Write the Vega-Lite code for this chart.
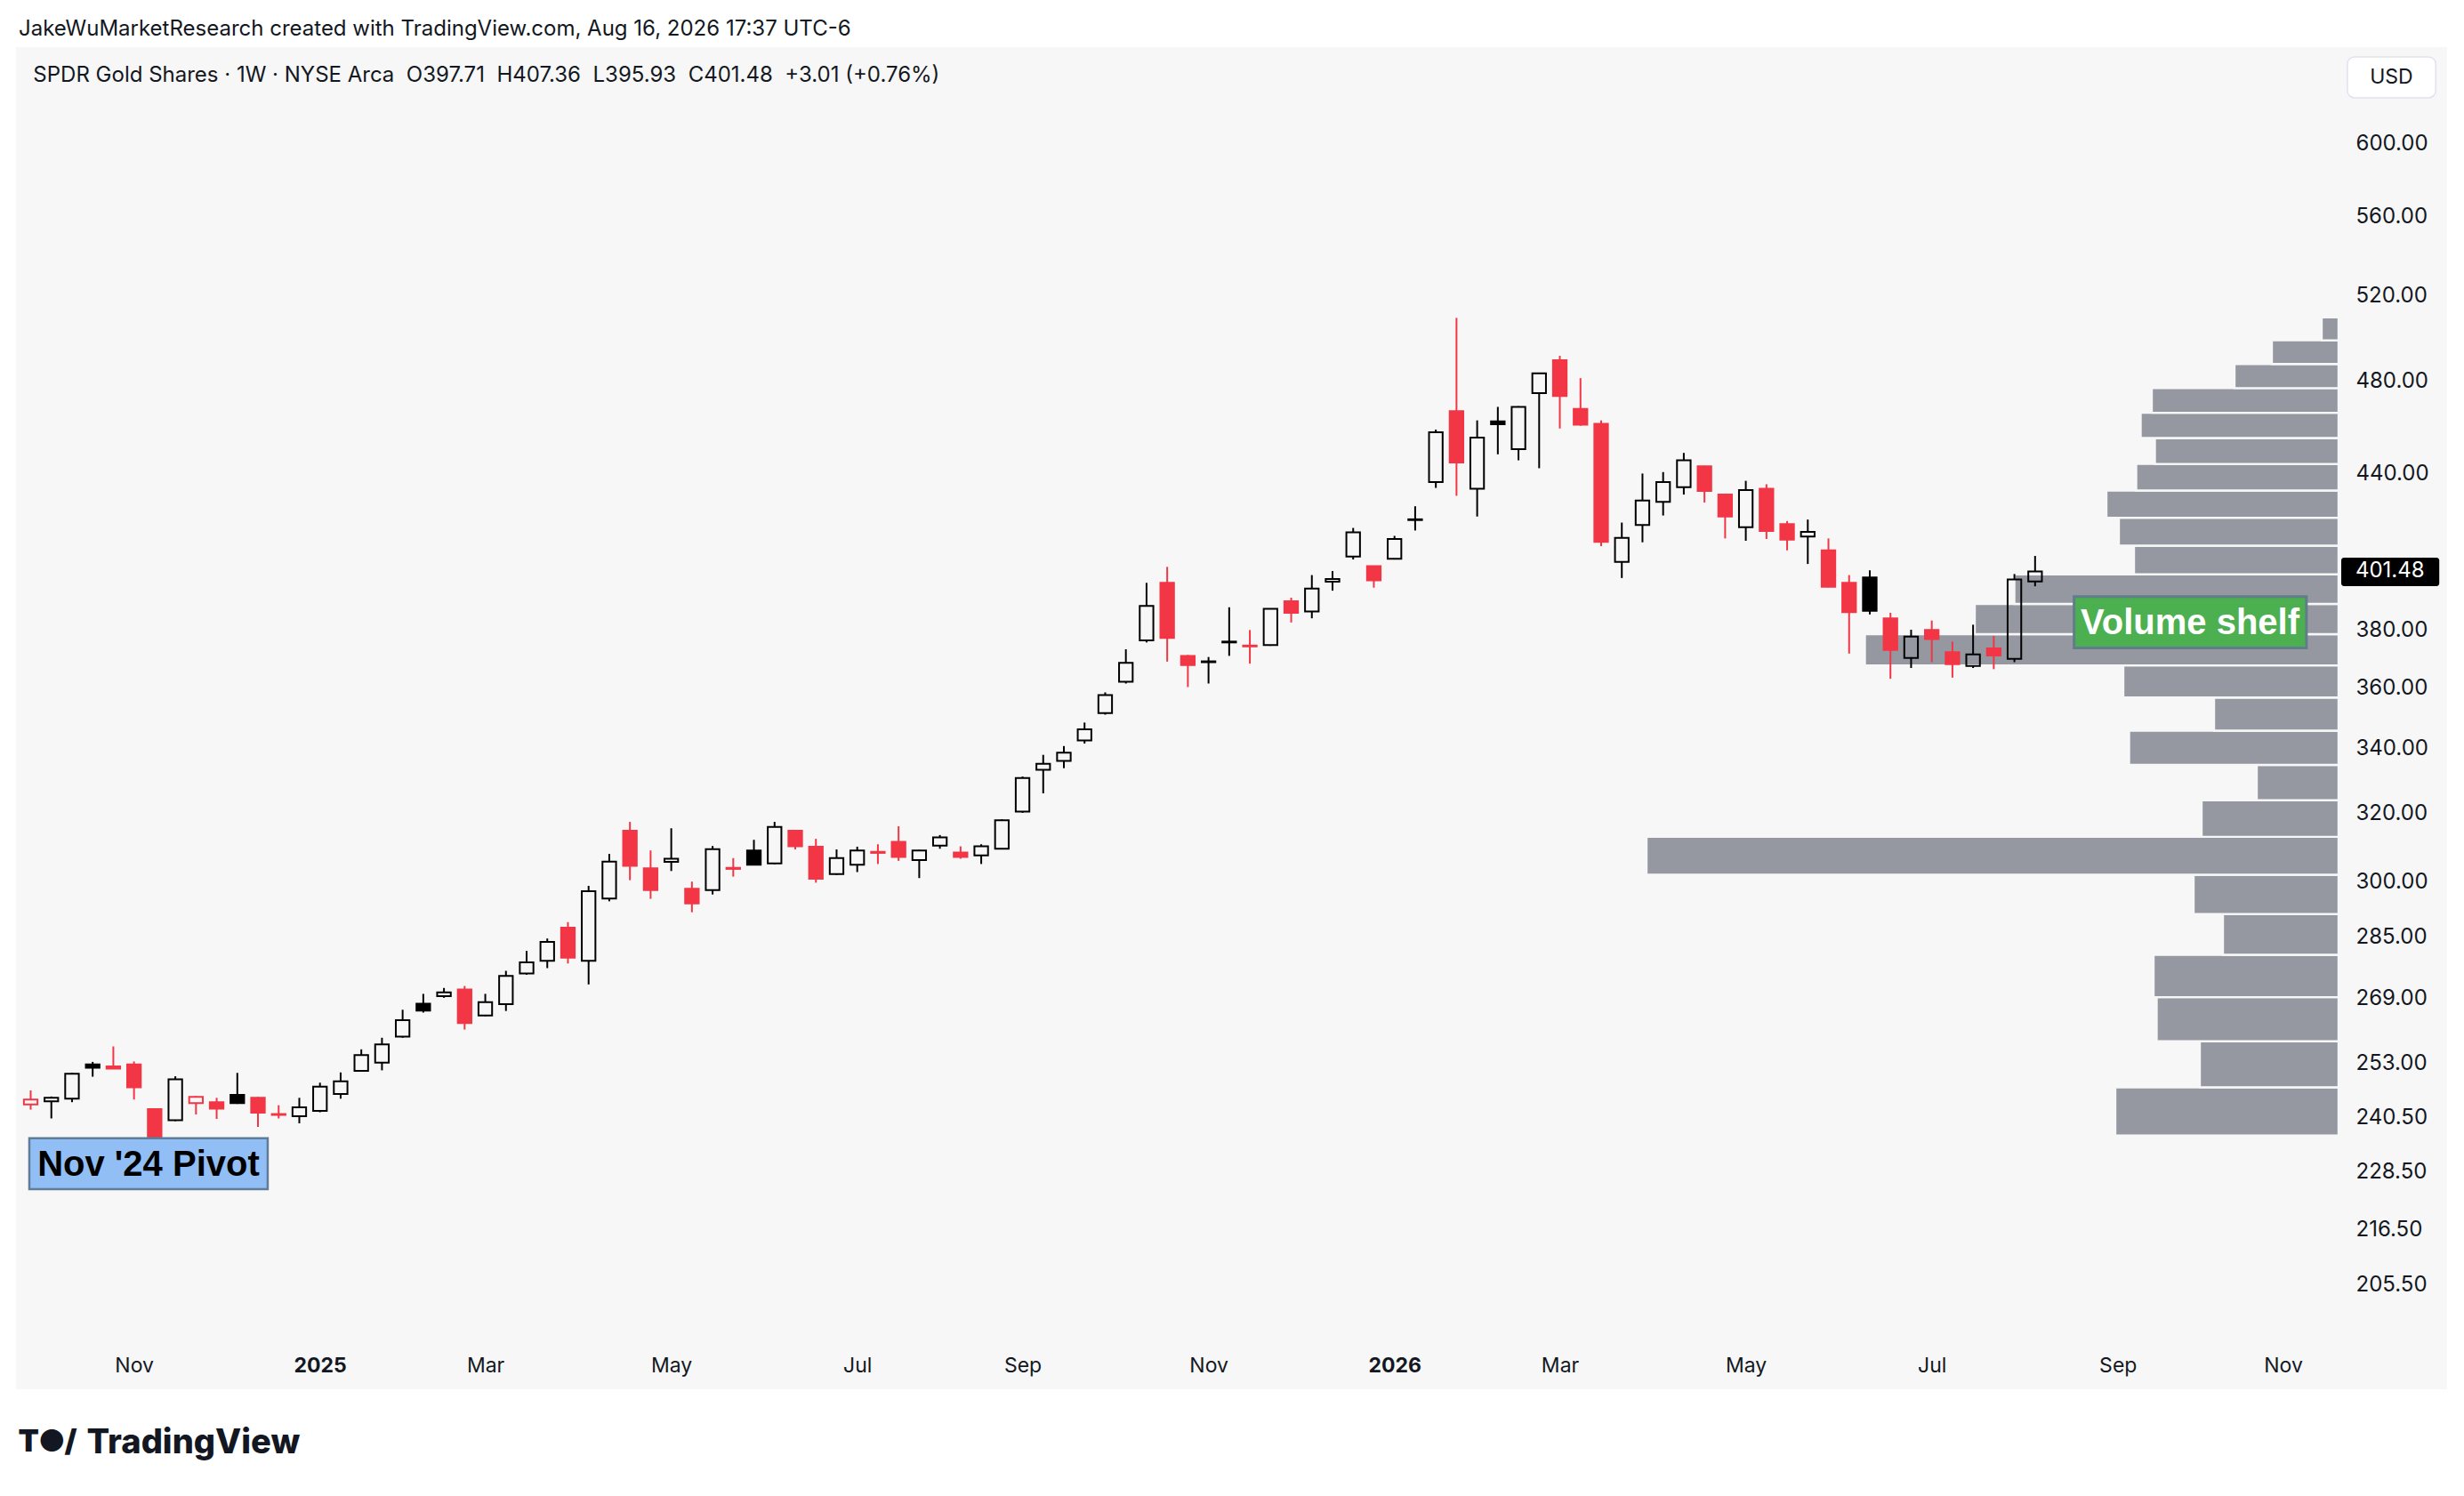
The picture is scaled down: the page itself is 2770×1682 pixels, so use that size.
{
  "$schema": "https://vega.github.io/schema/vega-lite/v6.json",
  "width": 2733,
  "height": 1509,
  "autosize": {"type": "none"},
  "padding": {"left": 18, "top": 53, "right": 19, "bottom": 120},
  "background": "#ffffff",
  "title": {
    "text": "JakeWuMarketResearch created with TradingView.com, Aug 16, 2026 17:37 UTC-6",
    "subtitle": "\u200b\u2002\u2009SPDR Gold Shares · 1W · NYSE Arca \u00a0O397.71 \u00a0H407.36 \u00a0L395.93 \u00a0C401.48 \u00a0+3.01 (+0.76%)",
    "anchor": "start",
    "frame": "group",
    "dx": 3,
    "offset": -44,
    "font": "Inter",
    "fontSize": 24,
    "fontWeight": "normal",
    "color": "#131722",
    "subtitleFont": "Inter",
    "subtitleFontSize": 24,
    "subtitleColor": "#131722",
    "subtitlePadding": 28
  },
  "datasets": {
    "candles": [
      {"date": "2024-09-30", "open": 243.5, "high": 246.7, "low": 242.3, "close": 244.6},
      {"date": "2024-10-07", "open": 244.2, "high": 245.3, "low": 240.3, "close": 245.0},
      {"date": "2024-10-14", "open": 244.8, "high": 250.8, "low": 244.0, "close": 250.6},
      {"date": "2024-10-21", "open": 252.8, "high": 253.4, "low": 249.9, "close": 252.0},
      {"date": "2024-10-28", "open": 252.3, "high": 257.1, "low": 251.8, "close": 251.8},
      {"date": "2024-11-04", "open": 252.8, "high": 253.5, "low": 244.6, "close": 247.4},
      {"date": "2024-11-11", "open": 242.4, "high": 242.4, "low": 236.2, "close": 236.2},
      {"date": "2024-11-18", "open": 239.9, "high": 250.0, "low": 239.7, "close": 249.3},
      {"date": "2024-11-25", "open": 243.8, "high": 245.4, "low": 241.2, "close": 245.2},
      {"date": "2024-12-02", "open": 244.0, "high": 245.0, "low": 240.2, "close": 242.5},
      {"date": "2024-12-09", "open": 245.7, "high": 250.8, "low": 243.6, "close": 243.8},
      {"date": "2024-12-16", "open": 245.0, "high": 245.2, "low": 238.4, "close": 241.6},
      {"date": "2024-12-23", "open": 241.3, "high": 243.3, "low": 240.3, "close": 241.1},
      {"date": "2024-12-30", "open": 240.8, "high": 245.0, "low": 239.2, "close": 242.8},
      {"date": "2025-01-06", "open": 242.0, "high": 248.5, "low": 241.7, "close": 247.6},
      {"date": "2025-01-13", "open": 245.9, "high": 250.9, "low": 244.8, "close": 248.8},
      {"date": "2025-01-20", "open": 251.3, "high": 256.4, "low": 251.1, "close": 255.0},
      {"date": "2025-01-27", "open": 253.2, "high": 259.2, "low": 251.4, "close": 257.6},
      {"date": "2025-02-03", "open": 259.5, "high": 266.1, "low": 259.2, "close": 263.5},
      {"date": "2025-02-10", "open": 267.6, "high": 270.1, "low": 265.4, "close": 265.9},
      {"date": "2025-02-17", "open": 269.5, "high": 271.6, "low": 269.1, "close": 270.5},
      {"date": "2025-02-24", "open": 271.2, "high": 272.1, "low": 261.2, "close": 262.8},
      {"date": "2025-03-03", "open": 264.7, "high": 270.1, "low": 264.5, "close": 268.0},
      {"date": "2025-03-10", "open": 267.5, "high": 276.0, "low": 265.8, "close": 274.7},
      {"date": "2025-03-17", "open": 275.3, "high": 281.2, "low": 275.0, "close": 278.2},
      {"date": "2025-03-24", "open": 278.6, "high": 284.5, "low": 276.7, "close": 283.6},
      {"date": "2025-03-31", "open": 287.4, "high": 288.9, "low": 277.9, "close": 279.4},
      {"date": "2025-04-07", "open": 278.6, "high": 298.9, "low": 272.5, "close": 297.4},
      {"date": "2025-04-14", "open": 295.4, "high": 308.0, "low": 294.6, "close": 305.8},
      {"date": "2025-04-21", "open": 314.8, "high": 317.4, "low": 300.5, "close": 304.6},
      {"date": "2025-04-28", "open": 303.9, "high": 309.0, "low": 295.3, "close": 297.7},
      {"date": "2025-05-05", "open": 305.7, "high": 315.5, "low": 303.1, "close": 306.6},
      {"date": "2025-05-12", "open": 298.1, "high": 300.1, "low": 291.6, "close": 294.0},
      {"date": "2025-05-19", "open": 297.7, "high": 310.3, "low": 296.5, "close": 309.4},
      {"date": "2025-05-26", "open": 304.0, "high": 306.8, "low": 301.5, "close": 303.7},
      {"date": "2025-06-02", "open": 309.0, "high": 312.1, "low": 304.7, "close": 304.9},
      {"date": "2025-06-09", "open": 305.3, "high": 317.4, "low": 305.0, "close": 315.9},
      {"date": "2025-06-16", "open": 314.8, "high": 315.0, "low": 309.3, "close": 310.2},
      {"date": "2025-06-23", "open": 310.1, "high": 312.4, "low": 299.8, "close": 300.9},
      {"date": "2025-06-30", "open": 302.2, "high": 309.3, "low": 302.0, "close": 306.8},
      {"date": "2025-07-07", "open": 304.9, "high": 310.1, "low": 302.8, "close": 309.0},
      {"date": "2025-07-14", "open": 308.6, "high": 310.8, "low": 305.1, "close": 308.3},
      {"date": "2025-07-21", "open": 311.5, "high": 316.1, "low": 306.0, "close": 307.1},
      {"date": "2025-07-28", "open": 306.2, "high": 309.2, "low": 301.1, "close": 309.0},
      {"date": "2025-08-04", "open": 310.4, "high": 313.5, "low": 309.5, "close": 312.8},
      {"date": "2025-08-11", "open": 308.4, "high": 310.2, "low": 306.6, "close": 307.1},
      {"date": "2025-08-18", "open": 307.6, "high": 310.8, "low": 305.1, "close": 310.2},
      {"date": "2025-08-25", "open": 309.5, "high": 318.2, "low": 309.3, "close": 317.9},
      {"date": "2025-09-01", "open": 320.5, "high": 331.2, "low": 320.1, "close": 330.7},
      {"date": "2025-09-08", "open": 333.3, "high": 338.0, "low": 326.0, "close": 335.2},
      {"date": "2025-09-15", "open": 336.1, "high": 340.8, "low": 333.8, "close": 338.7},
      {"date": "2025-09-22", "open": 342.6, "high": 348.4, "low": 341.6, "close": 346.2},
      {"date": "2025-09-29", "open": 351.5, "high": 358.4, "low": 351.0, "close": 357.5},
      {"date": "2025-10-06", "open": 362.0, "high": 373.2, "low": 361.4, "close": 368.5},
      {"date": "2025-10-13", "open": 376.3, "high": 397.2, "low": 375.6, "close": 388.7},
      {"date": "2025-10-20", "open": 397.2, "high": 403.2, "low": 368.9, "close": 377.2},
      {"date": "2025-10-27", "open": 370.9, "high": 371.2, "low": 360.2, "close": 367.7},
      {"date": "2025-11-03", "open": 368.7, "high": 370.5, "low": 361.4, "close": 369.0},
      {"date": "2025-11-10", "open": 375.6, "high": 388.2, "low": 370.9, "close": 375.9},
      {"date": "2025-11-17", "open": 374.5, "high": 380.0, "low": 368.2, "close": 374.2},
      {"date": "2025-11-24", "open": 374.7, "high": 387.8, "low": 374.4, "close": 387.6},
      {"date": "2025-12-01", "open": 390.4, "high": 391.7, "low": 382.7, "close": 386.2},
      {"date": "2025-12-08", "open": 386.7, "high": 400.1, "low": 384.2, "close": 395.1},
      {"date": "2025-12-15", "open": 397.6, "high": 401.6, "low": 394.3, "close": 398.6},
      {"date": "2025-12-22", "open": 407.1, "high": 418.2, "low": 406.0, "close": 416.5},
      {"date": "2025-12-29", "open": 403.5, "high": 403.6, "low": 395.4, "close": 398.1},
      {"date": "2026-01-05", "open": 406.3, "high": 415.1, "low": 406.0, "close": 413.9},
      {"date": "2026-01-12", "open": 421.3, "high": 426.8, "low": 417.2, "close": 421.6},
      {"date": "2026-01-19", "open": 436.6, "high": 458.6, "low": 434.2, "close": 457.5},
      {"date": "2026-01-26", "open": 466.6, "high": 509.3, "low": 431.0, "close": 444.7},
      {"date": "2026-02-02", "open": 433.9, "high": 462.6, "low": 422.7, "close": 455.2},
      {"date": "2026-02-09", "open": 462.2, "high": 468.5, "low": 448.1, "close": 460.9},
      {"date": "2026-02-16", "open": 450.3, "high": 468.8, "low": 445.6, "close": 468.5},
      {"date": "2026-02-23", "open": 474.6, "high": 483.8, "low": 442.3, "close": 483.5},
      {"date": "2026-03-02", "open": 489.5, "high": 491.5, "low": 459.1, "close": 473.3},
      {"date": "2026-03-09", "open": 467.6, "high": 481.3, "low": 460.3, "close": 460.7},
      {"date": "2026-03-16", "open": 461.1, "high": 462.6, "low": 411.1, "close": 412.8},
      {"date": "2026-03-23", "open": 405.1, "high": 420.3, "low": 399.0, "close": 414.3},
      {"date": "2026-03-30", "open": 419.4, "high": 440.1, "low": 412.6, "close": 429.1},
      {"date": "2026-04-06", "open": 428.6, "high": 440.7, "low": 423.1, "close": 436.6},
      {"date": "2026-04-13", "open": 434.5, "high": 448.7, "low": 431.5, "close": 445.6},
      {"date": "2026-04-20", "open": 443.1, "high": 443.3, "low": 428.3, "close": 433.0},
      {"date": "2026-04-27", "open": 431.5, "high": 431.9, "low": 414.1, "close": 422.7},
      {"date": "2026-05-04", "open": 418.5, "high": 437.1, "low": 413.2, "close": 433.3},
      {"date": "2026-05-11", "open": 433.9, "high": 435.7, "low": 413.9, "close": 417.0},
      {"date": "2026-05-18", "open": 419.7, "high": 420.9, "low": 409.5, "close": 413.6},
      {"date": "2026-05-25", "open": 414.8, "high": 421.5, "low": 404.3, "close": 416.7},
      {"date": "2026-06-01", "open": 409.5, "high": 414.1, "low": 395.5, "close": 395.7},
      {"date": "2026-06-08", "open": 397.2, "high": 400.1, "low": 371.7, "close": 386.4},
      {"date": "2026-06-15", "open": 399.2, "high": 401.9, "low": 385.6, "close": 386.9},
      {"date": "2026-06-22", "open": 384.2, "high": 386.2, "low": 363.0, "close": 373.0},
      {"date": "2026-06-29", "open": 370.2, "high": 380.1, "low": 366.7, "close": 377.7},
      {"date": "2026-07-06", "open": 380.0, "high": 383.4, "low": 368.7, "close": 376.8},
      {"date": "2026-07-13", "open": 372.2, "high": 375.9, "low": 363.4, "close": 368.0},
      {"date": "2026-07-20", "open": 367.4, "high": 381.9, "low": 366.7, "close": 371.4},
      {"date": "2026-07-27", "open": 373.5, "high": 377.9, "low": 366.3, "close": 371.0},
      {"date": "2026-08-03", "open": 369.9, "high": 400.5, "low": 368.7, "close": 398.47},
      {"date": "2026-08-10", "open": 397.71, "high": 407.36, "low": 395.93, "close": 401.48}
    ],
    "profile": [
      {"lo": 236.50, "hi": 247.42, "vol": 50.2},
      {"lo": 247.42, "hi": 258.35, "vol": 31.2},
      {"lo": 258.35, "hi": 269.27, "vol": 40.9},
      {"lo": 269.27, "hi": 280.20, "vol": 41.6},
      {"lo": 280.20, "hi": 291.12, "vol": 26.0},
      {"lo": 291.12, "hi": 302.04, "vol": 32.6},
      {"lo": 302.04, "hi": 312.97, "vol": 155.6},
      {"lo": 312.97, "hi": 323.89, "vol": 30.8},
      {"lo": 323.89, "hi": 334.82, "vol": 18.4},
      {"lo": 334.82, "hi": 345.74, "vol": 47.1},
      {"lo": 345.74, "hi": 356.66, "vol": 28.0},
      {"lo": 356.66, "hi": 367.59, "vol": 48.4},
      {"lo": 367.59, "hi": 378.51, "vol": 106.5},
      {"lo": 378.51, "hi": 389.44, "vol": 81.8},
      {"lo": 389.44, "hi": 400.36, "vol": 72.9},
      {"lo": 400.36, "hi": 411.28, "vol": 46.0},
      {"lo": 411.28, "hi": 422.21, "vol": 49.4},
      {"lo": 422.21, "hi": 433.13, "vol": 52.2},
      {"lo": 433.13, "hi": 444.06, "vol": 45.5},
      {"lo": 444.06, "hi": 454.98, "vol": 41.3},
      {"lo": 454.98, "hi": 465.90, "vol": 44.5},
      {"lo": 465.90, "hi": 476.83, "vol": 42.0},
      {"lo": 476.83, "hi": 487.75, "vol": 23.4},
      {"lo": 487.75, "hi": 498.68, "vol": 15.0},
      {"lo": 498.68, "hi": 509.60, "vol": 3.8}
    ],
    "notes": [
      {"key": "pivot", "start": "2024-09-29T13:00:00Z", "end": "2024-12-19T07:00:00Z", "top": 235.9, "bottom": 224.9, "at": "2024-11-08T22:00:00Z", "price": 230.3, "label": "Nov '24 Pivot"},
      {"key": "shelf", "start": "2026-08-23T05:00:00Z", "end": "2026-11-09T22:00:00Z", "top": 392.1, "bottom": 373.7, "at": "2026-10-01T12:00:00Z", "price": 382.9, "label": "Volume shelf"},
      {"key": "last", "start": "2026-11-21T17:00:00Z", "end": "2026-12-24T22:00:00Z", "top": 406.7, "bottom": 396.0, "at": "2026-11-26T12:00:00Z", "price": 401.48, "label": "401.48"},
      {"key": "currency", "start": "2026-11-23T19:00:00Z", "end": "2026-12-23T17:00:00Z", "top": 650.6, "bottom": 626.1, "at": "2026-12-08T17:00:00Z", "price": 638.3, "label": "USD"}
    ]
  },
  "layer": [
    {
      "data": {"name": "profile"},
      "mark": {"type": "rect", "color": "#9598a1", "stroke": "#f7f7f7", "strokeWidth": 2.4},
      "encoding": {
        "y": {
          "field": "lo",
          "type": "quantitative",
          "scale": {"type": "log", "domain": [186.38, 656.6], "nice": false, "zero": false},
          "axis": {
            "orient": "right",
            "offset": -122,
            "values": [600, 560, 520, 480, 440, 380, 360, 340, 320, 300, 285, 269, 253, 240.5, 228.5, 216.5, 205.5],
            "format": ".2f",
            "labelAlign": "left",
            "labelBaseline": "middle",
            "labelPadding": 19,
            "labelFontSize": 24,
            "labelOverlap": false,
            "labelBound": false,
            "labelFlush": false,
            "title": "T●/",
            "titleFont": "Inter",
            "titleFontSize": 34,
            "titleFontWeight": 900,
            "titleColor": "#131722",
            "titleAngle": 0,
            "titleAlign": "center",
            "titleBaseline": "middle",
            "titleX": -2576,
            "titleY": 1568
          }
        },
        "y2": {"field": "hi"},
        "x": {
          "field": "vol",
          "type": "quantitative",
          "scale": {"domain": [-24.4, 522.2], "reverse": true, "nice": false, "zero": false, "padding": 0},
          "axis": null
        },
        "x2": {"datum": 0}
      }
    },
    {
      "layer": [
        {
          "data": {"name": "candles"},
          "transform": [
            {"window": [{"op": "lag", "field": "close", "as": "prev"}], "sort": [{"field": "date", "order": "ascending"}]},
            {"calculate": "max(datum.open, datum.close)", "as": "top"},
            {"calculate": "min(datum.open, datum.close)", "as": "bot"}
          ],
          "encoding": {
            "x": {
              "field": "date",
              "type": "temporal",
              "scale": {
                "type": "utc",
                "nice": false,
                "padding": 0,
                "domain": [
                  {"year": 2024, "month": 9, "date": 25, "hours": 0, "minutes": 45, "utc": true},
                  {"year": 2026, "month": 12, "date": 27, "hours": 13, "minutes": 40, "utc": true}
                ]
              },
              "axis": {
                "orient": "bottom",
                "offset": -52,
                "values": [
                  {"year": 2024, "month": 11, "date": 4, "utc": true},
                  {"year": 2025, "month": 1, "date": 6, "utc": true},
                  {"year": 2025, "month": 3, "date": 3, "utc": true},
                  {"year": 2025, "month": 5, "date": 5, "utc": true},
                  {"year": 2025, "month": 7, "date": 7, "utc": true},
                  {"year": 2025, "month": 9, "date": 1, "utc": true},
                  {"year": 2025, "month": 11, "date": 3, "utc": true},
                  {"year": 2026, "month": 1, "date": 5, "utc": true},
                  {"year": 2026, "month": 3, "date": 2, "utc": true},
                  {"year": 2026, "month": 5, "date": 4, "utc": true},
                  {"year": 2026, "month": 7, "date": 6, "utc": true},
                  {"year": 2026, "month": 9, "date": 7, "utc": true},
                  {"year": 2026, "month": 11, "date": 2, "utc": true}
                ],
                "labelExpr": "utcmonth(datum.value) === 0 ? utcFormat(datum.value, '%Y') : utcFormat(datum.value, '%b')",
                "labelFontWeight": {"condition": {"test": "utcmonth(datum.value) === 0", "value": "bold"}, "value": "normal"},
                "labelFontSize": 23,
                "labelBaseline": "middle",
                "labelPadding": 25,
                "labelOverlap": false,
                "labelBound": false,
                "labelFlush": false,
                "title": "TradingView",
                "titleFont": "Inter",
                "titleFontSize": 38,
                "titleFontWeight": 800,
                "titleColor": "#131722",
                "titleAnchor": "start",
                "titleAlign": "left",
                "titleBaseline": "middle",
                "titleX": 79,
                "titleY": 112
              }
            },
            "color": {
              "condition": {"test": "datum.prev != null && datum.close >= datum.prev", "value": "#000000"},
              "value": "#f23645"
            }
          },
          "layer": [
            {
              "mark": {"type": "rule", "strokeWidth": 2},
              "encoding": {
                "y": {"field": "high", "type": "quantitative"},
                "y2": {"field": "top"}
              }
            },
            {
              "mark": {"type": "rule", "strokeWidth": 2},
              "encoding": {
                "y": {"field": "bot", "type": "quantitative"},
                "y2": {"field": "low"}
              }
            },
            {
              "mark": {"type": "bar", "size": 15.3, "strokeWidth": 2},
              "encoding": {
                "y": {"field": "top", "type": "quantitative"},
                "y2": {"field": "bot"},
                "stroke": {
                  "condition": {"test": "datum.prev != null && datum.close >= datum.prev", "value": "#000000"},
                  "value": "#f23645"
                },
                "fill": {
                  "condition": [
                    {"test": "datum.close > datum.open", "value": "transparent"},
                    {"test": "datum.prev != null && datum.close >= datum.prev", "value": "#000000"}
                  ],
                  "value": "#f23645"
                }
              }
            }
          ]
        },
        {
          "data": {"name": "notes"},
          "transform": [{"filter": "datum.key === 'pivot'"}],
          "layer": [
            {
              "mark": {"type": "rect", "fill": "#91bef5", "stroke": "#5f7c98", "strokeWidth": 2.5},
              "encoding": {
                "x": {"field": "start", "type": "temporal"},
                "x2": {"field": "end"},
                "y": {"field": "top", "type": "quantitative"},
                "y2": {"field": "bottom"}
              }
            },
            {
              "mark": {"type": "text", "font": "Liberation Sans", "fontSize": 40, "fontWeight": "bold", "color": "#000000", "align": "center", "baseline": "middle", "dy": 2},
              "encoding": {
                "x": {"field": "at", "type": "temporal"},
                "y": {"field": "price", "type": "quantitative"},
                "text": {"field": "label"}
              }
            }
          ]
        },
        {
          "data": {"name": "notes"},
          "transform": [{"filter": "datum.key === 'shelf'"}],
          "layer": [
            {
              "mark": {"type": "rect", "fill": "#4caf50", "stroke": "#607d8b", "strokeWidth": 3},
              "encoding": {
                "x": {"field": "start", "type": "temporal"},
                "x2": {"field": "end"},
                "y": {"field": "top", "type": "quantitative"},
                "y2": {"field": "bottom"}
              }
            },
            {
              "mark": {"type": "text", "font": "Liberation Sans", "fontSize": 40, "fontWeight": "bold", "color": "#ffffff", "align": "center", "baseline": "middle", "dy": 2},
              "encoding": {
                "x": {"field": "at", "type": "temporal"},
                "y": {"field": "price", "type": "quantitative"},
                "text": {"field": "label"}
              }
            }
          ]
        },
        {
          "data": {"name": "notes"},
          "transform": [{"filter": "datum.key === 'last'"}],
          "layer": [
            {
              "mark": {"type": "rect", "fill": "#000000", "cornerRadius": 3},
              "encoding": {
                "x": {"field": "start", "type": "temporal"},
                "x2": {"field": "end"},
                "y": {"field": "top", "type": "quantitative"},
                "y2": {"field": "bottom"}
              }
            },
            {
              "mark": {"type": "text", "font": "Inter", "fontSize": 24, "color": "#ffffff", "align": "left", "baseline": "middle"},
              "encoding": {
                "x": {"field": "at", "type": "temporal"},
                "y": {"field": "price", "type": "quantitative"},
                "text": {"field": "label"}
              }
            }
          ]
        },
        {
          "data": {"name": "notes"},
          "transform": [{"filter": "datum.key === 'currency'"}],
          "layer": [
            {
              "mark": {"type": "rect", "fill": "#ffffff", "stroke": "#e0e3eb", "strokeWidth": 1.5, "cornerRadius": 8},
              "encoding": {
                "x": {"field": "start", "type": "temporal"},
                "x2": {"field": "end"},
                "y": {"field": "top", "type": "quantitative"},
                "y2": {"field": "bottom"}
              }
            },
            {
              "mark": {"type": "text", "font": "Inter", "fontSize": 23, "color": "#131722", "align": "center", "baseline": "middle"},
              "encoding": {
                "x": {"field": "at", "type": "temporal"},
                "y": {"field": "price", "type": "quantitative"},
                "text": {"field": "label"}
              }
            }
          ]
        }
      ]
    }
  ],
  "resolve": {"scale": {"x": "independent"}},
  "config": {
    "view": {"fill": "#f7f7f7", "stroke": null},
    "font": "Inter",
    "axis": {
      "grid": false,
      "domain": false,
      "ticks": false,
      "tickSize": 0,
      "labelColor": "#131722",
      "labelFont": "Inter",
      "labelFontSize": 22
    }
  }
}
